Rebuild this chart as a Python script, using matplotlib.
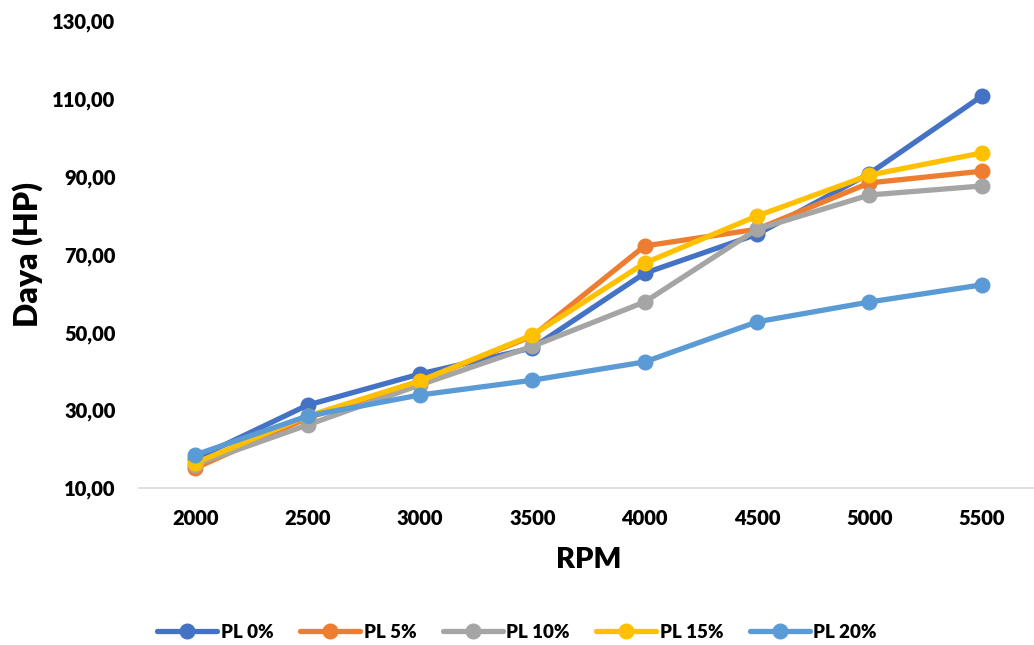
import matplotlib.pyplot as plt
from matplotlib.ticker import FuncFormatter

rpm = ["2000", "2500", "3000", "3500", "4000", "4500", "5000", "5500"]

pl0 = [17.5, 31.3, 39.3, 46.0, 65.2, 75.2, 90.8, 110.7]
pl5 = [15.1, 28.0, 37.5, 49.0, 72.2, 76.5, 88.4, 91.4]
pl10 = [16.0, 26.2, 36.5, 46.4, 57.8, 76.5, 85.3, 87.6]
pl15 = [16.4, 28.5, 37.5, 49.3, 67.8, 79.9, 90.4, 96.1]
pl20 = [18.5, 28.5, 33.9, 37.7, 42.4, 52.7, 57.8, 62.2]

labels = ["PL 0%", "PL 5%", "PL 10%", "PL 15%", "PL 20%"]
colors = ["#4472C4", "#ED7D31", "#A5A5A5", "#FFC000", "#5B9BD5"]

plt.rcParams['font.family'] = ['Lato', 'DejaVu Sans']

fig = plt.figure(figsize=(10.34, 6.45), dpi=100)
ax = fig.add_axes([139 / 1034, 1 - 488 / 645, 899 / 1034, 467 / 645])

x = list(range(len(rpm)))
for ys, lab, c in zip([pl0, pl5, pl10, pl15, pl20], labels, colors):
    ax.plot(x, ys, color=c, linewidth=3.8, marker='o', markersize=10.5,
            label=lab, solid_joinstyle='round', solid_capstyle='round')

ax.set_xlim(-0.5, 7.5)
ax.set_ylim(10, 130)
ax.set_yticks(range(10, 131, 20))
ax.set_xticks(x)
ax.set_xticklabels(rpm)
ax.yaxis.set_major_formatter(FuncFormatter(lambda v, p: f"{v:.2f}".replace('.', ',')))
ax.tick_params(axis='x', length=0, labelsize=14.5, pad=15)
ax.tick_params(axis='y', length=0, labelsize=14.5, pad=17)
for t in ax.get_xticklabels() + ax.get_yticklabels():
    t.set_fontweight('heavy')

for s in ['top', 'right', 'left']:
    ax.spines[s].set_visible(False)
ax.spines['bottom'].set_color('#D9D9D9')
ax.spines['bottom'].set_linewidth(1.2)

ax.set_xlabel('RPM', fontsize=21, fontweight='heavy')
ax.set_ylabel('Daya (HP)', fontsize=23, fontweight='heavy')
ax.xaxis.set_label_coords(0.5, -(560 - 488) / 467)
ax.yaxis.set_label_coords(-(139 - 28) / 899, 0.5)
ax.xaxis.label.set_va('center')
ax.yaxis.label.set_va('center')

leg = fig.legend(loc='center', bbox_to_anchor=(0.5, 1 - 632 / 645), ncol=5,
                 frameon=False, fontsize=13.5, handlelength=3.2,
                 columnspacing=1.4, handletextpad=0.2)
for t in leg.get_texts():
    t.set_fontweight('heavy')

fig.savefig('out.png', dpi=100)
